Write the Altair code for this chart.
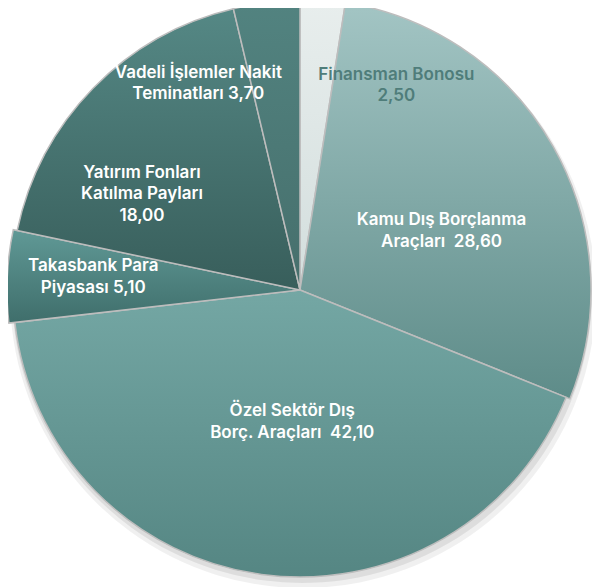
import altair as alt
import pandas as pd

categories = [
    "Finansman Bonosu",
    "Kamu Dış Borçlanma Araçları",
    "Özel Sektör Dış Borç. Araçları",
    "Takasbank Para Piyasası",
    "Yatırım Fonları Katılma Payları",
    "Vadeli İşlemler Nakit Teminatları",
]
values = [2.50, 28.60, 42.10, 5.10, 18.00, 3.70]
label_heads = [
    ["Finansman Bonosu"],
    ["Kamu Dış Borçlanma"],
    ["Özel Sektör Dış"],
    ["Takasbank Para"],
    ["Yatırım Fonları", "Katılma Payları"],
    ["Vadeli İşlemler Nakit"],
]
label_tails = ["", "Araçları \u00a0", "Borç. Araçları \u00a0", "Piyasası ", "", "Teminatları "]

top_colors = ["#e8eeed", "#a3c5c4", "#74a7a4", "#609996", "#558885", "#528380"]
bottom_colors = ["#d3dedd", "#5e8c89", "#558683", "#3f6e6b", "#385e5b", "#466f6c"]
text_colors = ["#4f7d7a", "white", "white", "white", "white", "white"]
outer_radii = [289, 291, 287, 293, 289, 289]
label_radius = [208, 150, 132, 208, 183, 230]
label_dx = [80, 11, 10, 1, -27, -75]
label_dy = [3, 15, 1, -3, 32, 22]

FONT_SIZE = 17
LINE_H = 21.5


def fmt(v):
    return f"{v:.2f}".replace(".", ",")


labels = ["\n".join(h + [t + fmt(v)]) for h, t, v in zip(label_heads, label_tails, values)]
n_lines = [len(h) + 1 for h in label_heads]

df = pd.DataFrame({
    "order": list(range(len(categories))),
    "category": categories,
    "value": values,
    "label": labels,
})

CX, CY = 292, 282

base = (
    alt.Chart(df)
    .transform_window(end="sum(value)", sort=[{"field": "order"}], frame=[None, 0])
    .transform_calculate(start="datum.end - datum.value", mid="datum.end - datum.value / 2")
)

theta_scale = alt.Scale(domain=[0, 100])

layers = []

# soft shadow
for op, rr, ox, oy in [(0.06, 293, 3, 5), (0.08, 290, 2, 3)]:
    layers.append(
        base.mark_arc(fill="black", opacity=op, outerRadius=rr).encode(
            theta=alt.Theta("start:Q", scale=theta_scale),
            theta2="end:Q",
            x=alt.value(CX + ox),
            y=alt.value(CY + oy),
        )
    )

for i, cat in enumerate(categories):
    grad = alt.Gradient(
        gradient="linear",
        stops=[
            alt.GradientStop(color=top_colors[i], offset=0),
            alt.GradientStop(color=bottom_colors[i], offset=1),
        ],
        x1=0, x2=0, y1=0, y2=1,
    )
    layers.append(
        base.transform_filter(alt.datum.category == cat)
        .mark_arc(fill=grad, outerRadius=outer_radii[i], stroke="#bdbdbd", strokeWidth=1.5)
        .encode(
            theta=alt.Theta("start:Q", scale=theta_scale),
            theta2="end:Q",
            x=alt.value(CX),
            y=alt.value(CY),
        )
    )

for i, cat in enumerate(categories):
    layers.append(
        base.transform_filter(alt.datum.category == cat)
        .mark_text(
            lineBreak="\n",
            font="Inter",
            fontSize=FONT_SIZE,
            fontWeight=600,
            lineHeight=LINE_H,
            align="center",
            baseline="middle",
            color=text_colors[i],
            dx=label_dx[i],
            dy=label_dy[i] - (n_lines[i] - 1) * LINE_H / 2,
        )
        .encode(
            theta=alt.Theta("mid:Q", scale=theta_scale),
            radius=alt.value(label_radius[i]),
            text="label:N",
            x=alt.value(CX),
            y=alt.value(CY),
        )
    )

chart = (
    alt.layer(*layers)
    .properties(width=584, height=579, padding=0, autosize=alt.AutoSizeParams(type="none"))
    .configure_view(stroke=None)
)

chart.save("out.html", embed_options={"renderer": "svg", "actions": False})
